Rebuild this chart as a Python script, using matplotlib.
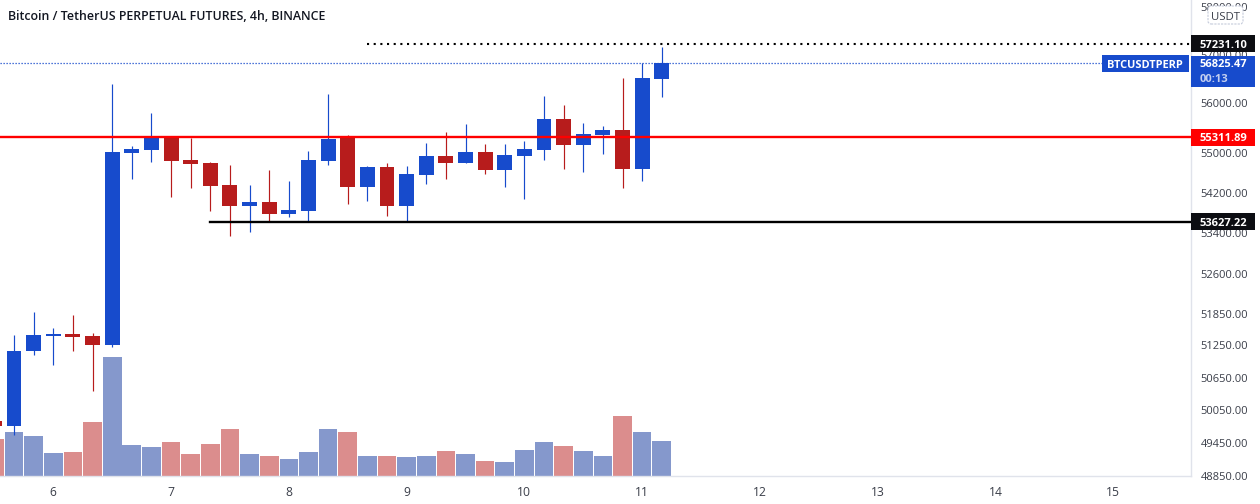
import matplotlib
matplotlib.use("Agg")
import matplotlib.pyplot as plt
from matplotlib.patches import Rectangle, FancyBboxPatch
from matplotlib.ticker import NullLocator
from matplotlib.transforms import IdentityTransform

# ---- data ----
bar_index = list(range(-3, 32))
opens = [49844, 49753, 51136, 51435, 51473, 51435, 51266, 54996, 55056, 55298, 54855, 54795, 54356, 53940, 54018, 53783, 53842, 54835,
         55298, 54316, 54715, 53940, 54555, 54936, 54795, 55016, 54655, 54936, 55056, 55683, 55157, 55358, 55460, 54675, 56504]
closes = [49753, 51154, 51454, 51473, 51416, 51266, 55016, 55076, 55298, 54835, 54775, 54336, 53940, 54018, 53783, 53861, 54855, 55277,
          54316, 54715, 53940, 54575, 54936, 54795, 55016, 54655, 54956, 55076, 55683, 55157, 55379, 55460, 54675, 56524, 56825]
highs = [49844, 51454, 51889, 51586, 51832, 51492, 56401, 55136, 55806, 55338, 55298, 54815, 54755, 54356, 54655, 54435, 55036, 56195,
         55358, 54735, 54795, 54735, 55197, 55419, 55582, 55177, 55177, 55237, 56154, 55970, 55602, 55541, 56524, 56835, 57168]
lows = [49753, 49589, 51061, 50875, 51136, 50395, 51229, 54475, 54815, 54118, 54296, 53842, 53352, 53430, 53626, 53724, 53626, 54755,
        53979, 54038, 53744, 53626, 54375, 54475, 54795, 54575, 54316, 54078, 54855, 54675, 54615, 54976, 54296, 54435, 56134]
volumes = [37, 44, 40, 23, 24, 54, 119, 31, 29, 34, 22, 32, 47, 22, 20, 17, 24, 47,
           44, 20, 20, 19, 20, 25, 22, 15, 14, 26, 34, 30, 25, 20, 60, 44, 35]
price_ticks = [58000, 57000, 56000, 55000, 54200, 53400, 52600, 51850, 51250, 50650, 50050, 49450, 48850]
day_ticks = [0, 6, 12, 18, 24, 30, 36, 42, 48, 54]
day_labels = ["6", "7", "8", "9", "10", "11", "12", "13", "14", "15"]
high_level = 57231.10
resistance = 55311.89
support = 53627.22
last_price = 56825.47
high_start = 16
support_start = 8
title = "Bitcoin / TetherUS PERPETUAL FUTURES, 4h, BINANCE"

BLUE, RED = "#174bcc", "#b71c1c"
VBLUE, VRED = "#8598cc", "#db8d8d"
GRID = "#e0e3eb"
FONT = "Open Sans"

W, H = 1260, 504
fig = plt.figure(figsize=(W / 100, H / 100), dpi=100, facecolor="white")
rect = [0, (H - 476.4) / H, 1191 / W, 476.4 / H]
ax_v = fig.add_axes(rect, zorder=1)
ax = fig.add_axes(rect, zorder=2)
ax.patch.set_visible(False)

xlim = (-2.715, 57.96)
ups = [c >= o for o, c in zip(opens, closes)]

# volume pane
ax_v.bar(bar_index, volumes, width=0.95, color=[VBLUE if u else VRED for u in ups], linewidth=0)
ax_v.set_xlim(*xlim)
ax_v.set_ylim(0, 476.4)
ax_v.axis("off")

# candles
ax.set_yscale("log")
cols = [BLUE if u else RED for u in ups]
wicks = ax.vlines(bar_index, lows, highs, colors=cols, linewidth=0.85, zorder=2)
wicks.set_snap(True)
ax.bar(bar_index, [abs(c - o) for o, c in zip(opens, closes)],
       bottom=[min(o, c) for o, c in zip(opens, closes)],
       width=0.76, color=cols, linewidth=0, zorder=3)

# levels
ax.axhline(resistance, color="#ff0000", linewidth=1.7, zorder=5)
ax.plot([support_start, xlim[1]], [support, support], color="black", linewidth=1.7, zorder=5)
ax.plot([high_start, xlim[1]], [high_level, high_level], color="black", linewidth=1.5,
        linestyle=(0, (1, 2.2)), zorder=5)
tag_end = (1102 - 53.3) / 19.63
ax.plot([xlim[0], tag_end], [last_price, last_price], color=BLUE, linewidth=0.9,
        linestyle=(0, (1, 1.4)), zorder=4)

ax.set_xlim(*xlim)
ax.set_ylim(48850, 58159)
ax.yaxis.tick_right()
ax.yaxis.set_minor_locator(NullLocator())
ax.set_yticks(price_ticks)
ax.set_yticklabels([f"{p:.2f}" for p in price_ticks], fontfamily=FONT, fontsize=8.0, color="#3a3e49")
ax.set_xticks(day_ticks)
ax.set_xticklabels(day_labels, fontfamily=FONT, fontsize=8.7, color="#3a3e49")
ax.tick_params(axis="both", which="both", length=0)
ax.tick_params(axis="y", pad=7)
ax.tick_params(axis="x", pad=7)
for s in ("top", "left"):
    ax.spines[s].set_visible(False)
for s in ("right", "bottom"):
    ax.spines[s].set_color(GRID)
    ax.spines[s].set_linewidth(1.0)

fig.text(8 / W, 1 - 16.5 / H, title, fontfamily=FONT, fontsize=8.9, fontweight=600,
         color="#131722", va="center", ha="left")


def py(price):
    return ax.transData.transform((0, price))[1]


def box(x0, x1, ytop, ybot, color, z=20):
    fig.add_artist(Rectangle((x0, ybot), x1 - x0, ytop - ybot, transform=IdentityTransform(),
                             facecolor=color, edgecolor="none", zorder=z))


def label(x, y, s, color="white", weight="bold", size=8.0, ha="left"):
    fig.text(x / W, y / H, s, color=color, fontfamily=FONT, fontweight=weight, fontsize=size,
             va="center_baseline", ha=ha, zorder=21)


fig.canvas.draw()
for price, color in ((high_level, "#0c0d12"), (resistance, "#ff0000"), (support, "#0c0d12")):
    y = py(price)
    box(1191, 1255, y + 8.5, y - 8.5, color)
    label(1200, y, f"{price:.2f}")

y = py(last_price)
box(1191, 1255, y + 7.5, y - 24, BLUE)
label(1200, y, f"{last_price:.2f}")
label(1200, y - 15, "00:13", color="#c3cff0", weight="bold")
box(1102, 1189, y + 8, y - 9, BLUE)
label(1107, y - 0.5, "BTCUSDTPERP", size=7.9)

fig.add_artist(FancyBboxPatch((1208, H - 24), 35, 18, boxstyle="round,pad=0,rounding_size=3",
                              transform=IdentityTransform(), facecolor="white", edgecolor="#c5cbdb",
                              linewidth=0.8, linestyle=(0, (2, 1)), zorder=20))
label(1225.5, H - 15.5, "USDT", color="#3a3e49", weight="normal", size=8.2, ha="center")

fig.savefig("out.png", dpi=100, facecolor="white")
